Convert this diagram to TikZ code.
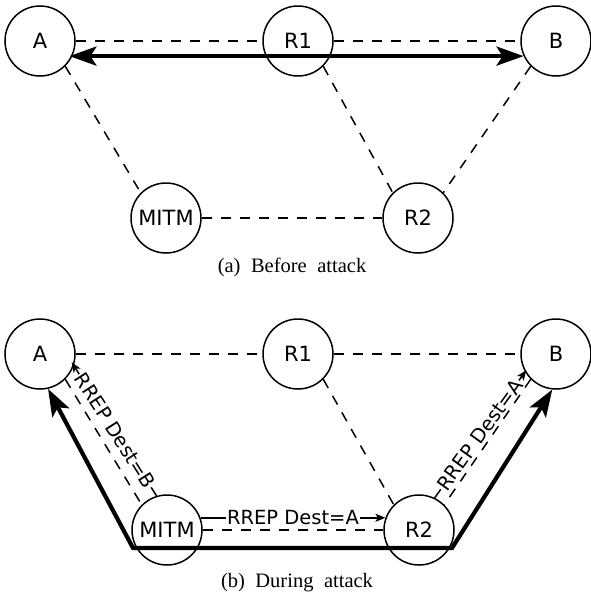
\documentclass[tikz,border=0pt]{standalone}
\usepackage{fontspec}
\setmainfont{Liberation Serif}
\newfontfamily\nodefont{DejaVu Sans}
\usetikzlibrary{arrows.meta,calc}
\begin{document}
\begin{tikzpicture}[x=1pt,y=-1pt,
 netnode/.style={circle,draw,line width=1.5pt,minimum size=70pt,inner sep=0pt,font=\nodefont\fontsize{21}{25}\selectfont},
 link/.style={line width=1.5pt,dash pattern=on 10pt off 9pt},
 flow/.style={line width=4.2pt,line join=miter,{Stealth[length=27pt,width=19pt,inset=6pt]}-{Stealth[length=27pt,width=19pt,inset=6pt]}},
 msg/.style={line width=1.5pt,-{Stealth[length=10pt,width=8pt,inset=2.5pt]}},
 msglabel/.style={midway,sloped,fill=white,inner sep=1pt,font=\nodefont\fontsize{19.5}{23}\selectfont},
 capt/.style={font=\fontsize{20.5}{24}\selectfont}]
\useasboundingbox (0,0) rectangle (590,600);
% ---------- (a) before attack
\node[netnode] (A) at (40,41) {A};
\node[netnode] (R1) at (298,41) {R1};
\node[netnode] (B) at (556,41) {B};
\node[netnode] (M) at (166,218) {MITM};
\node[netnode] (R2) at (418,218) {R2};
\draw[link] (A.east) -- (R1.west);
\draw[link] (R1.east) -- (B.west);
\draw[link] (A.south east) -- (M.north west);
\draw[link] (R1.south east) -- (R2.north west);
\draw[link] (B.south west) -- (R2.north east);
\draw[link] (M.east) -- (R2.west);
\draw[flow,shorten <=-3pt] (A.-25) -- (B.205);
\node[capt] (capa) at (292,267) {(a)\hspace{10.5pt}Before\hspace{10.5pt}attack};
% ---------- (b) during attack
\node[netnode] (A2) at (40,354) {A};
\node[netnode] (R12) at (298,354) {R1};
\node[netnode] (B2) at (556,354) {B};
\node[netnode] (M2) at (167,530) {MITM};
\node[netnode] (R22) at (419,530) {R2};
\coordinate (bl) at (133,548);
\coordinate (br) at (452,548);
\draw[msg,shorten >=-4pt] (M2.107) -- (A2.-19) node[msglabel] (lb) {RREP Dest=B};
\draw[msg] (M2.20) -- (R22.160) node[msglabel] (lm) {RREP Dest=A};
\draw[msg,shorten >=-2pt] (R22.64) -- (B2.210) node[msglabel] (lr) {RREP Dest=A};
\draw[link] (A2.east) -- (R12.west);
\draw[link] (R12.east) -- (B2.west);
\draw[link] (A2.south east) -- (M2.north west);
\draw[link] (R12.south east) -- (R22.north west);
\draw[link] (B2.south west) -- (R22.north east);
\draw[link] (M2.east) -- (R22.west);
\draw[flow] (A2.-77) -- (bl) -- (br) -- (B2.-96);
\node[capt] (capb) at (297,583) {(b)\hspace{10.5pt}During\hspace{10.5pt}attack};
\end{tikzpicture}
\end{document}
